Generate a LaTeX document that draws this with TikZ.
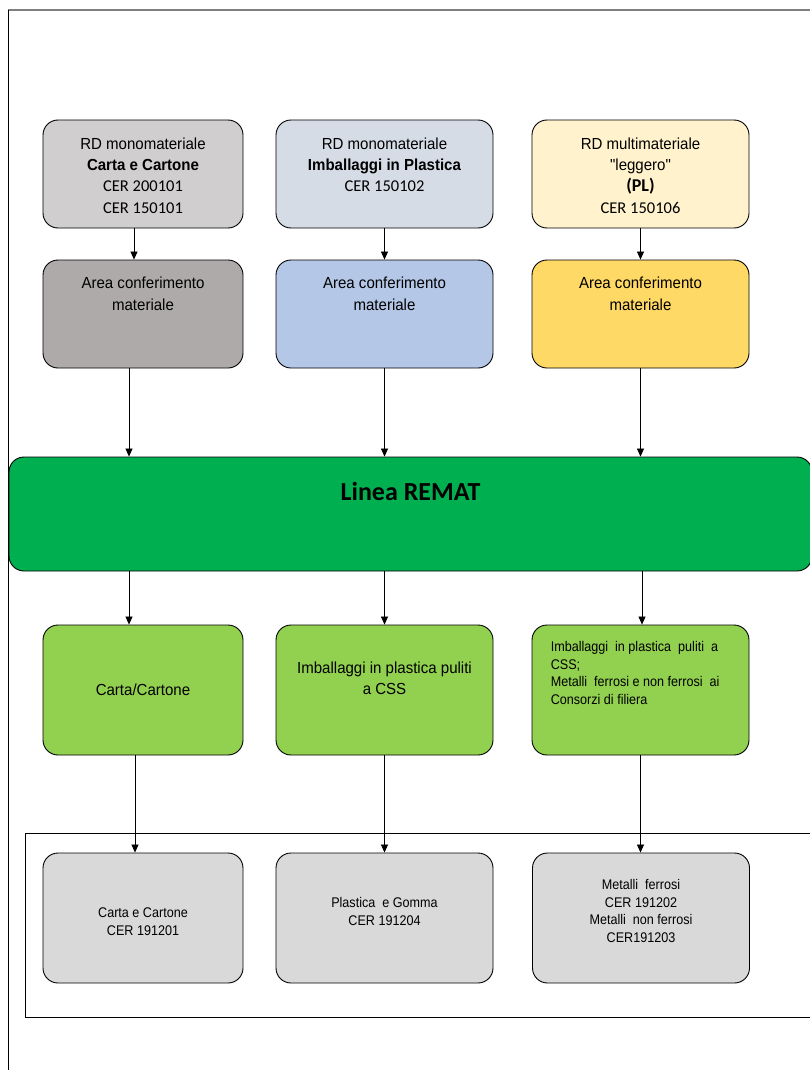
\documentclass[tikz,border=0pt]{standalone}
\usepackage{fontspec}
\setmainfont[FakeStretch=0.94,Ligatures=TeXOff]{Liberation Sans}
\newfontfamily\calibri{Carlito}
\newfontfamily\narrow[FakeStretch=0.9]{Liberation Sans}
\usetikzlibrary{arrows.meta,positioning}
\definecolor{cartagray}{HTML}{D0CECE}
\definecolor{plastgray}{HTML}{D6DCE5}
\definecolor{plyellow}{HTML}{FFF2CC}
\definecolor{areagray}{HTML}{AEAAAA}
\definecolor{areablue}{HTML}{B4C7E7}
\definecolor{areayellow}{HTML}{FFD966}
\definecolor{rematgreen}{HTML}{00B050}
\definecolor{outgreen}{HTML}{92D050}
\definecolor{cergray}{HTML}{D9D9D9}
\definecolor{framegray}{HTML}{7F7F7F}
\newcommand{\cer}[1]{{\calibri\fontsize{16.5}{21.3}\selectfont #1}}

\begin{document}
\begin{tikzpicture}[x=1pt,y=-1pt,
        box/.style={draw,line width=0.9pt,rounded corners=15pt,inner sep=0pt,
                    minimum width=217pt,minimum height=108pt},
        tall/.style={box,minimum height=130pt},
        txt/.style={anchor=north,inner sep=0pt,align=center,
                    font=\fontsize{16}{21.3}\selectfont},
        small/.style={inner sep=0pt,align=center,
                      font=\narrow\fontsize{14}{17.6}\selectfont},
        arr/.style={-{Triangle[length=8pt,width=7pt]},line width=0.7pt}]
        \clip (0,0) rectangle (810,1070);
        \useasboundingbox (0,0) rectangle (810,1070);
        % page frame
        \draw[framegray,line width=1.5pt] (8,10) -- (812,10);
        \draw[line width=0.8pt] (8,10) -- (8,1072);

        % raccolte differenziate
        \node[box,minimum width=200pt,fill=cartagray] (rd1) at (143,174) {};
        \node[txt] at ([yshift=-18pt]rd1.north)
          {RD monomateriale\\ \textbf{Carta e Cartone}\\ \cer{CER 200101}\\ \cer{CER 150101}};
        \node[box,fill=plastgray] (rd2) at (384.5,174) {};
        \node[txt] at ([yshift=-18pt]rd2.north)
          {RD monomateriale\\ \textbf{Imballaggi in Plastica}\\ \cer{CER 150102}};
        \node[box,fill=plyellow] (rd3) at (640.5,174) {};
        \node[txt] at ([yshift=-18pt]rd3.north)
          {RD multimateriale\\ "leggero"\\ \cer{\bfseries\fontsize{18}{21.3}\selectfont (PL)}\\ \cer{CER 150106}};

        % aree di conferimento
        \node[box,minimum width=200pt,fill=areagray] (ar1) at (143,314) {};
        \node[txt] at ([yshift=-17.5pt]ar1.north) {Area conferimento\\ materiale};
        \node[box,fill=areablue] (ar2) at (384.5,314) {};
        \node[txt] at ([yshift=-17.5pt]ar2.north) {Area conferimento\\ materiale};
        \node[box,fill=areayellow] (ar3) at (640.5,314) {};
        \node[txt] at ([yshift=-17.5pt]ar3.north) {Area conferimento\\ materiale};

        \node[box,minimum width=803pt,minimum height=114pt,fill=rematgreen] (remat) at (410.5,514) {};
        \node[txt,font=\calibri\bfseries\fontsize{26}{30}\selectfont] at ([yshift=-26pt]remat.north) {Linea REMAT};

        % uscite della linea
        \node[tall,minimum width=200pt,fill=outgreen,font=\fontsize{16}{21.3}\selectfont] (us1) at (143,690) {Carta/Cartone};
        \node[tall,fill=outgreen] (us2) at (384.5,690) {};
        \node[txt] at ([yshift=-37pt]us2.north) {Imballaggi in plastica puliti\\ a CSS};
        \node[tall,fill=outgreen] (us3) at (640.5,690) {};
        \node[small,anchor=north west,align=left] at ([xshift=19pt,yshift=-16.5pt]us3.north west)
          {Imballaggi\ \ in plastica\ \ puliti\ \ a\\ CSS;\\ Metalli\ \ ferrosi e non ferrosi\ \ ai\\ Consorzi di filiera};

        % codici CER in uscita
        \draw[line width=0.9pt] (25,833) rectangle (815,1017);
        \node[tall,minimum width=200pt,fill=cergray] (cer1) at (143,918) {};
        \node[small,anchor=north] at ([yshift=-55pt]cer1.north) {Carta e Cartone\\ CER 191201};
        \node[tall,fill=cergray] (cer2) at (384.5,918) {};
        \node[small,anchor=north] at ([yshift=-44.5pt]cer2.north) {Plastica\ \ e Gomma\\ CER 191204};
        \node[tall,fill=cergray] (cer3) at (641,918) {};
        \node[small,anchor=north] at ([yshift=-26.5pt]cer3.north)
          {Metalli\ \ ferrosi\\ CER 191202\\ Metalli\ \ non ferrosi\\ CER191203};

        \draw[arr] ([xshift=-9pt]rd1.south) -- ([xshift=-9pt]ar1.north);
        \draw[arr] (rd2) -- (ar2);
        \draw[arr] (rd3) -- (ar3);
        \draw[arr] ([xshift=-14pt]ar1.south) -- ([xshift=-14pt]ar1.south |- remat.north);
        \draw[arr] (ar2.south) -- (ar2.south |- remat.north);
        \draw[arr] (ar3.south) -- (ar3.south |- remat.north);
        \draw[arr] ([xshift=-14pt]us1.north |- remat.south) -- ([xshift=-14pt]us1.north);
        \draw[arr] (us2.north |- remat.south) -- (us2.north);
        \draw[arr] ([xshift=1.5pt]us3.north |- remat.south) -- ([xshift=1.5pt]us3.north);
        \draw[arr] ([xshift=-8pt]us1.south) -- ([xshift=-8pt]cer1.north);
        \draw[arr] (us2) -- (cer2);
        \draw[arr] (us3) -- (us3 |- cer3.north);
      \end{tikzpicture}
\end{document}
